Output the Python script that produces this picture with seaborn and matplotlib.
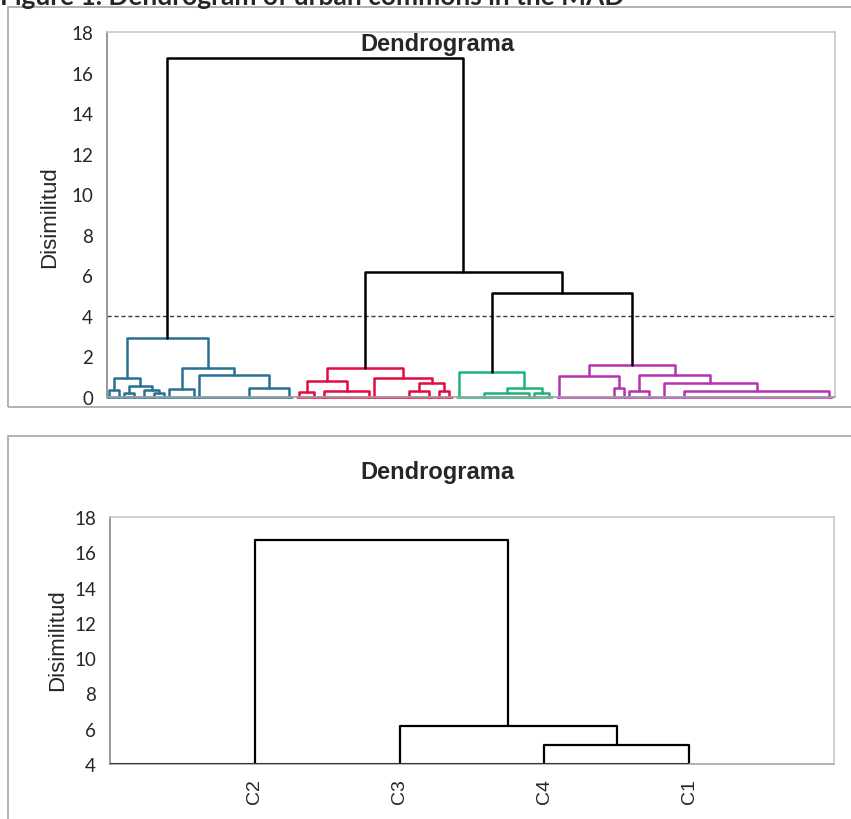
import numpy as np
import pandas as pd
import matplotlib
matplotlib.use("Agg")
import matplotlib.pyplot as plt
from matplotlib.patches import Rectangle
import seaborn as sns

sns.set_style("white")
plt.rcParams['font.family'] = ['Lato', 'DejaVu Sans']

# full dendrogram: leaves (position in the observation order) and their cluster
leaf_pos = [0, 2, 3, 5, 7, 9, 11, 12, 17, 18, 28, 36,
            38, 41, 43, 52, 53, 60, 64, 66, 68,
            70, 75, 84, 85, 88,
            90, 101, 103, 104, 108, 111, 115, 144]
leaf_cluster = ['C2'] * 12 + ['C3'] * 9 + ['C4'] * 5 + ['C1'] * 8

# merges, scipy style: ids < len(leaf_pos) are leaves, others are earlier merges
merge_a = [0, 2, 5, 4, 35, 34, 7, 10, 9, 40, 39,
           12, 14, 45, 17, 19, 48, 16, 47,
           22, 24, 53, 21,
           27, 26, 29, 32, 31, 59, 58,
           56, 52, 44]
merge_b = [1, 3, 6, 36, 37, 38, 8, 11, 41, 42, 43,
           13, 15, 46, 18, 20, 49, 50, 51,
           23, 25, 54, 55,
           28, 57, 30, 33, 60, 61, 62,
           63, 64, 65]
merge_h = [0.33, 0.20, 0.20, 0.33, 0.54, 0.91, 0.36, 0.45, 1.07, 1.43, 2.90,
           0.22, 0.30, 0.76, 0.27, 0.30, 0.69, 0.94, 1.42,
           0.17, 0.20, 0.43, 1.22,
           0.43, 1.04, 0.28, 0.28, 0.68, 1.09, 1.57,
           5.10, 6.15, 16.70]
cut_level = 4

# summary dendrogram of the four classes
class_labels = ['C2', 'C3', 'C4', 'C1']
class_merge_a = [2, 1, 0]
class_merge_b = [3, 4, 5]
class_merge_h = [5.10, 6.15, 16.70]

palette = {'C2': '#2A7090', 'C3': '#E30B40', 'C4': '#1EB27A', 'C1': '#B532B0', 'link': 'black'}


def segments(pos, groups, ma, mb, mh, base):
    n = len(pos)
    nx, nh, nc = list(pos), [base] * n, list(groups)
    rows = []
    for k, (a, b, h) in enumerate(zip(ma, mb, mh)):
        c = nc[a] if nc[a] == nc[b] else 'link'
        for xx, yy in [(nx[a], nh[a]), (nx[a], h), (nx[b], h), (nx[b], nh[b])]:
            rows.append({'seg': k, 'x': xx, 'y': yy, 'grp': c})
        nx.append((nx[a] + nx[b]) / 2)
        nh.append(h)
        nc.append(c)
    return rows


fig = plt.figure(figsize=(8.51, 8.20), dpi=100)

# panel frames
fig.add_artist(Rectangle((8 / 851, 412 / 820), 1.0, 400 / 820, transform=fig.transFigure,
                         fill=False, ec='#A6A6A6', lw=1.2))
fig.add_artist(Rectangle((8 / 851, -0.01), 1.0, 383 / 820 + 0.01, transform=fig.transFigure,
                         fill=False, ec='#A6A6A6', lw=1.2))
fig.text(0.0, 1 - 5 / 820, 'Figure 1. Dendrogram of urban commons in the MAD',
         fontsize=19, fontweight='bold', ha='left', va='baseline')

# ---- top: full dendrogram
ax1 = fig.add_axes([107 / 851, (820 - 397.7) / 820, 728 / 851, 364.7 / 820])
rows = segments(leaf_pos, leaf_cluster, merge_a, merge_b, merge_h, 0)
seg_id = len(merge_h)
for cl in ['C2', 'C3', 'C4', 'C1']:
    p = [x for x, c in zip(leaf_pos, leaf_cluster) if c == cl]
    rows.append({'seg': seg_id, 'x': min(p) - 0.5, 'y': 0, 'grp': cl})
    rows.append({'seg': seg_id, 'x': max(p) + 0.5, 'y': 0, 'grp': cl})
    seg_id += 1
df1 = pd.DataFrame(rows)
ax1.axhline(cut_level, color='#3A3A3A', lw=1, ls=(0, (3, 2)), zorder=1)
sns.lineplot(data=df1, x='x', y='y', units='seg', hue='grp', palette=palette,
             estimator=None, sort=False, legend=False, lw=1.8, clip_on=False, ax=ax1)
ax1.set_xlim(-0.4, 145.2)
ax1.set_ylim(0, 18)
ax1.set_yticks(range(0, 19, 2))
ax1.set_xticks([])
ax1.set_xlabel('')
ax1.set_ylabel('')

# ---- bottom: class dendrogram
ax2 = fig.add_axes([110 / 851, 55 / 820, 724 / 851, 247 / 820])
class_pos = list(range(1, len(class_labels) + 1))
rows2 = segments(class_pos, class_labels, class_merge_a, class_merge_b, class_merge_h, cut_level)
df2 = pd.DataFrame(rows2)
ax2.hlines(cut_level, 0, max(class_pos), color='#333333', lw=1.5, zorder=3)
sns.lineplot(data=df2, x='x', y='y', units='seg', color='black',
             estimator=None, sort=False, legend=False, lw=1.6, ax=ax2)
ax2.set_xlim(0, 5)
ax2.set_ylim(cut_level, 18)
ax2.set_yticks(range(cut_level, 19, 2))
ax2.set_xticks(class_pos)
ax2.set_xticklabels(class_labels, rotation=90, fontfamily='Liberation Sans', fontsize=14)
ax2.set_xlabel('')
ax2.set_ylabel('')

for ax in (ax1, ax2):
    ax.spines['left'].set_color('#868686')
    ax.spines['bottom'].set_color('#A6A6A6')
    ax.spines['top'].set_color('#C8C8C8')
    ax.spines['right'].set_color('#C8C8C8')
    for s in ax.spines.values():
        s.set_linewidth(1.2)
    ax.tick_params(axis='y', direction='inout', length=10, width=1, color='#868686',
                   labelsize=13.5, pad=5)
    ax.tick_params(axis='x', length=0, pad=10)

fig.text(437 / 851, 1 - 45 / 820, 'Dendrograma', ha='center', va='center',
         fontsize=17, fontweight='bold', fontfamily='Liberation Sans')
fig.text(437 / 851, 1 - 473 / 820, 'Dendrograma', ha='center', va='center',
         fontsize=17, fontweight='bold', fontfamily='Liberation Sans')
fig.text(50 / 851, 1 - 217 / 820, 'Disimilitud', rotation=90, ha='center', va='center',
         fontsize=16, fontfamily='Liberation Sans')
fig.text(58 / 851, 1 - 640 / 820, 'Disimilitud', rotation=90, ha='center', va='center',
         fontsize=16, fontfamily='Liberation Sans')

fig.savefig('out.png', dpi=100)
